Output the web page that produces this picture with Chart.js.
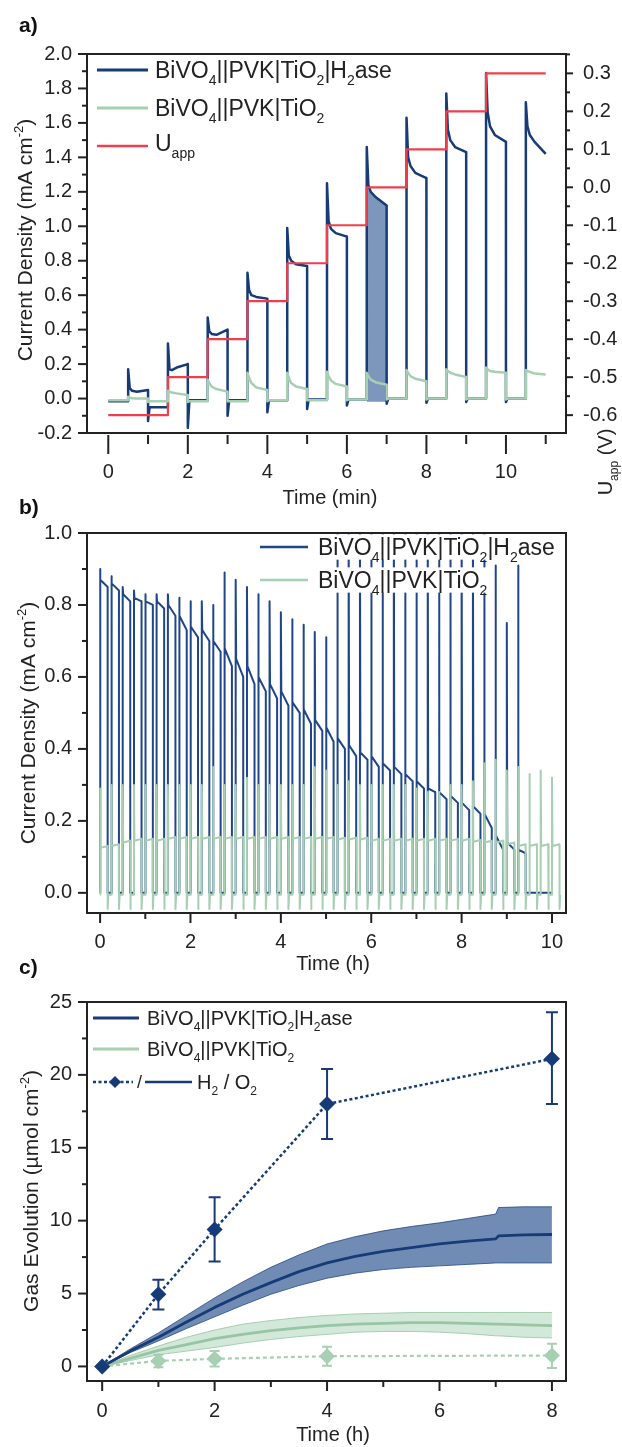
<!DOCTYPE html>
<html>
<head>
<meta charset="utf-8">
<script src="https://cdn.jsdelivr.net/npm/chart.js@4.4.0/dist/chart.umd.min.js"></script>
<style>
  html, body { margin: 0; padding: 0; background: #fff; width: 622px; height: 1447px; overflow: hidden; }
  .panel { position: absolute; left: 0; width: 622px; }
  .tag { position: absolute; left: 19px; font: bold 21px "Liberation Sans", Arial, sans-serif; color: #111; z-index: 5; }
</style>
</head>
<body>
<div class="panel" style="top:0;height:515px"><canvas id="chartA" width="622" height="515"></canvas></div>
<div class="panel" style="top:500px;height:475px"><canvas id="chartB" width="622" height="475"></canvas></div>
<div class="panel" style="top:975px;height:472px"><canvas id="chartC" width="622" height="472"></canvas></div>
<div class="tag" style="top:13px">a)</div>
<div class="tag" style="top:495px">b)</div>
<div class="tag" style="top:955px">c)</div>
<script>
const FONT = '"Liberation Sans", Arial, sans-serif';
const BLUE = '#173b76';
const GREEN = '#a7cfb2';
const RED = '#ee3f4c';
const INK = '#222';

// ---- panel a: stepped potential, chopped light (time in min) ----
const aOn  = [0.5, 1.5, 2.5, 3.5, 4.5, 5.5, 6.5, 7.5, 8.5, 9.5, 10.5];
const aOff = [1, 2, 3, 4, 5, 6, 7, 8, 9, 10, 11];
const aBluePeak = [0.17, 0.32, 0.47, 0.73, 0.99, 1.25, 1.46, 1.63, 1.77, 1.89, 1.72];
const aBlueKnee = [0.06, 0.17, 0.39, 0.63, 0.83, 1.03, 1.24, 1.40, 1.56, 1.66, 1.58];
const aBlueSag  = [0.045, 0.165, 0.375, 0.60, 0.80, 0.985, 1.20, 1.35, 1.50, 1.58, 1.53];
const aBlueMid  = [0.04, 0.18, 0.37, 0.59, 0.78, 0.96, 1.17, 1.31, 1.46, 1.53, 1.49];
const aBlueEnd  = [0.05, 0.20, 0.40, 0.58, 0.77, 0.94, 1.12, 1.28, 1.43, 1.49, 1.42];
const aBlueDip  = [-0.13, -0.17, -0.10, -0.08, -0.06, -0.04, -0.03, -0.025, -0.02, -0.02];
const aBlueDark = [-0.015, -0.05, -0.01, -0.01, -0.01, -0.005, -0.005, 0, 0, 0, 0];
const aGreenPeak = [0.01, 0.045, 0.11, 0.15, 0.15, 0.155, 0.15, 0.165, 0.17, 0.18, 0.165];
const aGreenKnee = [0.005, 0.04, 0.09, 0.12, 0.12, 0.13, 0.13, 0.15, 0.16, 0.17, 0.16];
const aGreenSag  = [0.002, 0.035, 0.07, 0.09, 0.09, 0.105, 0.11, 0.13, 0.15, 0.16, 0.155];
const aGreenMid  = [0.0, 0.03, 0.055, 0.065, 0.07, 0.085, 0.095, 0.115, 0.14, 0.155, 0.145];
const aGreenEnd  = [0.0, 0.02, 0.04, 0.05, 0.055, 0.07, 0.08, 0.10, 0.125, 0.15, 0.14];
const aGreenDip  = [-0.02, -0.02, -0.015, -0.015, -0.01, -0.01, -0.005, -0.005, -0.005, -0.005];
const aGreenDark = [-0.01, -0.015, -0.015, -0.015, -0.01, -0.01, -0.005, 0, 0, 0, 0];
const aUTimes = [0, 1.5, 2.5, 3.5, 4.5, 5.5, 6.5, 7.5, 8.5, 9.5, 11];
const aUValues = [-0.6, -0.5, -0.4, -0.3, -0.2, -0.1, 0.0, 0.1, 0.2, 0.3, 0.3];
const aShadeFrom = 6.5, aShadeTo = 7.0;

// ---- panel b: long-term chopped light (time in h) ----
const bOn = [0, 0.25, 0.5, 0.75, 1, 1.25, 1.5, 1.75, 2, 2.25, 2.5, 2.75, 3, 3.25, 3.5, 3.75, 4, 4.25, 4.5, 4.75,
             5, 5.25, 5.5, 5.75, 6, 6.25, 6.5, 6.75, 7, 7.25, 7.5, 7.75, 8, 8.25, 8.5, 8.75, 9, 9.25, 9.5, 9.75, 10];
const bLightDur = 0.167;
const bBluePeak = [0.90, 0.88, 0.85, 0.84, 0.83, 0.83, 0.83, 0.82, 0.81, 0.81, 0.80, 0.89, 0.87, 0.85, 0.83, 0.81,
                   0.78, 0.76, 0.745, 0.725, 0.71, 1.05, 1.05, 1.05, 1.05, 1.05, 1.05, 1.05, 1.05, 1.05, 1.05, 1.05,
                   1.05, 1.05, 1.05, 0.91, 0.75, 0.91];
const bBlueStart = [0.87, 0.86, 0.83, 0.82, 0.81, 0.81, 0.80, 0.77, 0.74, 0.73, 0.70, 0.68, 0.65, 0.63, 0.60, 0.58,
                    0.56, 0.53, 0.51, 0.48, 0.46, 0.43, 0.41, 0.39, 0.38, 0.36, 0.35, 0.33, 0.31, 0.29, 0.28, 0.27,
                    0.25, 0.24, 0.22, 0.16, 0.14, 0.12];
const bBlueEnd = [0.85, 0.84, 0.81, 0.81, 0.80, 0.79, 0.77, 0.73, 0.71, 0.70, 0.67, 0.63, 0.60, 0.58, 0.56, 0.54,
                  0.52, 0.50, 0.47, 0.45, 0.42, 0.40, 0.38, 0.37, 0.35, 0.34, 0.33, 0.31, 0.29, 0.28, 0.26, 0.25,
                  0.23, 0.22, 0.18, 0.12, 0.12, 0.11];
const bBlueTailT = [9.45, 10.0];
const bBlueTailY = [0.0, 0.0];
const bGreenPeak = [0.29, 0.30, 0.30, 0.30, 0.30, 0.30, 0.30, 0.30, 0.30, 0.30, 0.35, 0.30, 0.30, 0.32, 0.30, 0.30,
                    0.30, 0.30, 0.30, 0.35, 0.34, 0.30, 0.31, 0.30, 0.30, 0.30, 0.30, 0.30, 0.29, 0.28, 0.28, 0.30,
                    0.30, 0.31, 0.36, 0.37, 0.34, 0.35, 0.33, 0.34, 0.32];
const bGreenLevel = [0.125, 0.13, 0.14, 0.145, 0.145, 0.145, 0.15, 0.15, 0.15, 0.15, 0.15, 0.15, 0.15, 0.15, 0.15,
                     0.15, 0.15, 0.15, 0.15, 0.15, 0.15, 0.148, 0.148, 0.148, 0.145, 0.145, 0.145, 0.145, 0.145,
                     0.145, 0.145, 0.145, 0.145, 0.142, 0.14, 0.14, 0.135, 0.13, 0.13, 0.13, 0.13];
const bGreenDip = -0.045;
const bGreenDark = -0.005;

// ---- panel c: gas evolution (time in h) ----
const cTimesH2 = [0, 1, 2, 4, 8];
const cH2Blue = [0, 4.95, 9.4, 18.0, 21.1];
const cH2BlueLow = [0, 3.9, 7.2, 15.6, 18.0];
const cH2BlueHigh = [0, 5.95, 11.6, 20.4, 24.3];
const cH2Green = [0, 0.38, 0.52, 0.7, 0.75];
const cH2GreenLow = [0, -0.05, 0.0, 0.05, -0.1];
const cH2GreenHigh = [0, 0.8, 1.05, 1.35, 1.55];
const cTimesO2 = [0, 0.5, 1, 1.5, 2, 2.5, 3, 3.5, 4, 4.5, 5, 5.5, 6, 6.5, 7, 7.05, 7.5, 8];
const cO2Blue = [0, 1.05, 2.0, 3.05, 4.05, 4.95, 5.75, 6.5, 7.1, 7.55, 7.9, 8.15, 8.4, 8.6, 8.75, 8.95, 9.02, 9.05];
const cO2BlueHigh = [0, 1.2, 2.3, 3.5, 4.7, 5.8, 6.8, 7.65, 8.4, 8.9, 9.3, 9.6, 9.85, 10.15, 10.45, 10.9, 10.95, 10.95];
const cO2BlueLow = [0, 0.95, 1.75, 2.6, 3.4, 4.2, 4.95, 5.55, 6.05, 6.4, 6.65, 6.8, 6.9, 7.0, 7.1, 7.1, 7.1, 7.1];
const cO2Green = [0, 0.55, 1.1, 1.5, 1.9, 2.2, 2.45, 2.65, 2.8, 2.9, 2.95, 3.0, 3.0, 2.95, 2.9, 2.9, 2.85, 2.8];
const cO2GreenHigh = [0, 0.75, 1.4, 2.0, 2.5, 2.9, 3.15, 3.35, 3.5, 3.6, 3.65, 3.7, 3.7, 3.7, 3.7, 3.7, 3.7, 3.7];
const cO2GreenLow = [0, 0.4, 0.8, 1.05, 1.3, 1.6, 1.85, 2.05, 2.2, 2.35, 2.4, 2.4, 2.35, 2.25, 2.1, 2.1, 2.0, 1.95];

// labels
const BIVO_H2ASE = [['BiVO', ''], ['4', 'sub'], ['||PVK|TiO', ''], ['2', 'sub'], ['|H', ''], ['2', 'sub'], ['ase', '']];
const BIVO = [['BiVO', ''], ['4', 'sub'], ['||PVK|TiO', ''], ['2', 'sub']];
const UAPP = [['U', ''], ['app', 'sub']];
const H2O2 = [['H', ''], ['2', 'sub'], [' / O', ''], ['2', 'sub']];
const CURRENT_TITLE = [['Current Density (mA cm', ''], ['-2', 'sup'], [')', '']];
const GAS_TITLE = [['Gas Evolution (\u00b5mol cm', ''], ['-2', 'sup'], [')', '']];
const UAPP_TITLE = [['U', ''], ['app', 'sub'], [' (V)', '']];

// Build the chopped-light trace of panel a from the per-cycle values
function buildChop(on, off, peak, knee, sag, mid, end, dip, dark) {
  const pts = [{ x: 0, y: dark[0] }];
  for (let i = 0; i < on.length; i++) {
    pts.push({ x: on[i], y: dark[i] });
    pts.push({ x: on[i], y: peak[i] });
    pts.push({ x: on[i] + 0.04, y: knee[i] });
    pts.push({ x: on[i] + 0.1, y: sag[i] });
    pts.push({ x: on[i] + 0.22, y: mid[i] });
    pts.push({ x: off[i], y: end[i] });
    if (i < dip.length) {
      pts.push({ x: off[i], y: dip[i] });
      pts.push({ x: off[i] + 0.04, y: dark[i + 1] });
    }
  }
  return pts;
}

const aBluePts = buildChop(aOn, aOff, aBluePeak, aBlueKnee, aBlueSag, aBlueMid, aBlueEnd, aBlueDip, aBlueDark);
const aGreenPts = buildChop(aOn, aOff, aGreenPeak, aGreenKnee, aGreenSag, aGreenMid, aGreenEnd, aGreenDip, aGreenDark);
const aShadePts = aBluePts.filter(p => p.x >= aShadeFrom && p.x <= aShadeTo);
const aUPts = aUTimes.map((t, i) => ({ x: t, y: aUValues[i] }));

const bBluePts = [{ x: 0, y: 0 }];
bBluePeak.forEach((pk, i) => {
  const t = bOn[i];
  bBluePts.push({ x: t, y: 0 }, { x: t, y: pk }, { x: t + 0.01, y: bBlueStart[i] },
                { x: t + bLightDur, y: bBlueEnd[i] }, { x: t + bLightDur, y: 0 });
});
bBlueTailT.forEach((t, i) => bBluePts.push({ x: t, y: bBlueTailY[i] }));

const bGreenPts = [{ x: 0, y: bGreenDark }];
bGreenPeak.forEach((pk, i) => {
  const t = bOn[i];
  bGreenPts.push({ x: t, y: bGreenDark }, { x: t, y: pk }, { x: t + 0.01, y: bGreenLevel[i] },
                 { x: t + bLightDur, y: bGreenLevel[i] + 0.005 }, { x: t + bLightDur, y: bGreenDip },
                 { x: t + bLightDur + 0.015, y: bGreenDark });
});

const xy = (xs, ys) => xs.map((x, i) => ({ x, y: ys[i] }));

// Rich text with sub/superscripts; y is the visual middle of the line
function drawRich(ctx, parts, x, y, size, opt = {}) {
  const small = Math.round(size * 0.62);
  let w = 0;
  parts.forEach(([t, m]) => { ctx.font = (m ? small : size) + 'px ' + FONT; w += ctx.measureText(t).width; });
  ctx.save();
  ctx.translate(x, y);
  if (opt.rotate) ctx.rotate(opt.rotate);
  let cx = opt.align === 'center' ? -w / 2 : 0;
  ctx.textBaseline = 'alphabetic';
  ctx.fillStyle = opt.color || INK;
  parts.forEach(([t, m]) => {
    ctx.font = (m ? small : size) + 'px ' + FONT;
    let dy = size * 0.36;
    if (m === 'sub') dy += size * 0.3;
    if (m === 'sup') dy -= size * 0.42;
    ctx.fillText(t, cx, dy);
    cx += ctx.measureText(t).width;
  });
  ctx.restore();
  return w;
}

function drawTicks(chart, t) {
  const ctx = chart.ctx, a = chart.chartArea, s = chart.scales[t.axis];
  const n = Math.round((t.to - t.from) / t.step);
  const gap = t.gap || 0;
  for (let i = 0; i <= n; i++) {
    const v = t.from + i * t.step;
    if (v < s.min - 1e-9 || v > s.max + 1e-9) continue;
    const p = s.getPixelForValue(v);
    ctx.beginPath();
    if (t.side === 'bottom') { ctx.moveTo(p, a.bottom + gap); ctx.lineTo(p, a.bottom + gap + t.len); }
    if (t.side === 'left') { ctx.moveTo(a.left, p); ctx.lineTo(a.left - t.len, p); }
    if (t.side === 'right') { ctx.moveTo(a.right, p); ctx.lineTo(a.right + t.len, p); }
    ctx.stroke();
  }
}

function drawDiamond(ctx, x, y, r, color) {
  ctx.beginPath();
  ctx.moveTo(x, y - r); ctx.lineTo(x + r, y); ctx.lineTo(x, y + r); ctx.lineTo(x - r, y);
  ctx.closePath();
  ctx.fillStyle = color;
  ctx.fill();
}

const decoPlugin = {
  id: 'deco',
  beforeDatasetsDraw(chart, args, opts) {
    const ctx = chart.ctx;
    (opts.errorBars || []).forEach(eb => {
      const sx = chart.scales.x, sy = chart.scales.y;
      ctx.save();
      ctx.strokeStyle = eb.color;
      ctx.lineWidth = eb.width;
      eb.x.forEach((t, i) => {
        if (eb.high[i] === eb.low[i]) return;
        const px = sx.getPixelForValue(t);
        const y1 = sy.getPixelForValue(eb.high[i]), y2 = sy.getPixelForValue(eb.low[i]);
        ctx.beginPath();
        ctx.moveTo(px, y1); ctx.lineTo(px, y2);
        ctx.moveTo(px - eb.cap / 2, y1); ctx.lineTo(px + eb.cap / 2, y1);
        ctx.moveTo(px - eb.cap / 2, y2); ctx.lineTo(px + eb.cap / 2, y2);
        ctx.stroke();
      });
      ctx.restore();
    });
  },
  afterDraw(chart, args, opts) {
    const ctx = chart.ctx, a = chart.chartArea;
    ctx.save();
    ctx.strokeStyle = INK;
    ctx.lineWidth = 2;
    ctx.strokeRect(a.left, a.top, a.right - a.left, a.bottom - a.top);
    (opts.ticks || []).forEach(t => drawTicks(chart, t));
    (opts.titles || []).forEach(t => drawRich(ctx, t.parts, t.x, t.y, t.size, { rotate: t.rotate, align: 'center' }));
    (opts.legend || []).forEach(it => {
      if (it.kind === 'line') {
        ctx.save();
        ctx.strokeStyle = it.color;
        ctx.lineWidth = it.width;
        ctx.setLineDash(it.dash || []);
        ctx.beginPath(); ctx.moveTo(it.x1, it.y); ctx.lineTo(it.x2, it.y); ctx.stroke();
        ctx.restore();
      } else if (it.kind === 'diamond') {
        drawDiamond(ctx, it.x, it.y, it.r, it.color);
      } else if (it.kind === 'text') {
        if (it.clear) {
          ctx.fillStyle = '#fff';
          ctx.fillRect(it.x - 2, it.y - it.size * 0.55, it.clear, it.size * 1.1);
        }
        drawRich(ctx, it.parts, it.x, it.y, it.size);
      }
    });
    ctx.restore();
  }
};
Chart.register(decoPlugin);
Chart.defaults.font.family = FONT;
Chart.defaults.color = INK;

const baseOpts = (extra) => Object.assign({
  animation: false,
  responsive: false,
  devicePixelRatio: 1,
  events: [],
  elements: { point: { radius: 0 }, line: { tension: 0, borderJoinStyle: 'round', fill: false } },
}, extra);

const axisCommon = { grid: { display: false, drawTicks: false }, border: { display: false } };

// ---------------- panel a ----------------
new Chart(document.getElementById('chartA'), {
  type: 'line',
  data: {
    datasets: [
      { data: aGreenPts, borderColor: GREEN, borderWidth: 2.5, yAxisID: 'y' },
      { data: aUPts, borderColor: RED, borderWidth: 2.2, stepped: 'before', yAxisID: 'y2' },
      { data: aBluePts, borderColor: BLUE, borderWidth: 2.5, yAxisID: 'y' },
      { data: aShadePts, borderWidth: 0, borderColor: 'rgba(0,0,0,0)', backgroundColor: 'rgba(45,85,145,0.62)',
        fill: { value: -0.018 }, yAxisID: 'y' }
    ]
  },
  options: baseOpts({
    layout: { padding: { top: 54, left: 0, right: 0, bottom: 0 } },
    plugins: {
      legend: { display: false }, tooltip: { enabled: false },
      deco: {
        ticks: [
          { axis: 'x', side: 'bottom', from: 0, to: 10, step: 2, len: 19, gap: 2 },
          { axis: 'x', side: 'bottom', from: 1, to: 11, step: 2, len: 9, gap: 2 },
          { axis: 'y', side: 'left', from: -0.2, to: 2.0, step: 0.2, len: 9 },
          { axis: 'y', side: 'left', from: -0.1, to: 1.9, step: 0.2, len: 5 },
          { axis: 'y2', side: 'right', from: -0.6, to: 0.3, step: 0.1, len: 7 },
          { axis: 'y2', side: 'right', from: -0.55, to: 0.35, step: 0.1, len: 4 }
        ],
        titles: [
          { parts: CURRENT_TITLE, x: 24, y: 240, size: 21, rotate: -Math.PI / 2 },
          { parts: [['Time (min)', '']], x: 330, y: 497, size: 20 },
          { parts: UAPP_TITLE, x: 605, y: 462, size: 20, rotate: -Math.PI / 2 }
        ],
        legend: [
          { kind: 'line', x1: 97, x2: 148, y: 70, color: BLUE, width: 3 },
          { kind: 'text', x: 155, y: 70, parts: BIVO_H2ASE, size: 23 },
          { kind: 'line', x1: 97, x2: 148, y: 108, color: GREEN, width: 3 },
          { kind: 'text', x: 155, y: 108, parts: BIVO, size: 23 },
          { kind: 'line', x1: 97, x2: 148, y: 146, color: RED, width: 2.5 },
          { kind: 'text', x: 155, y: 143, parts: UAPP, size: 23 }
        ]
      }
    },
    scales: {
      x: Object.assign({}, axisCommon, {
        type: 'linear', min: -0.535, max: 11.51,
        ticks: { stepSize: 2, includeBounds: false, padding: 27, font: { size: 20 }, color: INK,
                 callback: v => String(v) },
        afterFit: s => { s.height = 82; }
      }),
      y: Object.assign({}, axisCommon, {
        type: 'linear', position: 'left', min: -0.2, max: 2.0,
        ticks: { stepSize: 0.2, padding: 15, font: { size: 20 }, color: INK, callback: v => v.toFixed(1) },
        afterFit: s => { s.width = 87; }
      }),
      y2: Object.assign({}, axisCommon, {
        type: 'linear', position: 'right', min: -0.647, max: 0.351,
        ticks: { stepSize: 0.1, includeBounds: false, padding: 17, font: { size: 20 }, color: INK,
                 callback: v => v.toFixed(1) },
        afterFit: s => { s.width = 56; }
      })
    }
  })
});

// ---------------- panel b ----------------
new Chart(document.getElementById('chartB'), {
  type: 'line',
  data: {
    datasets: [
      { data: bGreenPts, borderColor: GREEN, borderWidth: 2 },
      { data: bBluePts, borderColor: '#1f4688', borderWidth: 2 }
    ]
  },
  options: baseOpts({
    layout: { padding: { top: 33, left: 0, right: 56, bottom: 0 } },
    plugins: {
      legend: { display: false }, tooltip: { enabled: false },
      deco: {
        ticks: [
          { axis: 'x', side: 'bottom', from: 0, to: 10, step: 2, len: 9, gap: 1 },
          { axis: 'x', side: 'bottom', from: 1, to: 9, step: 2, len: 5, gap: 1 },
          { axis: 'y', side: 'left', from: 0, to: 1.0, step: 0.2, len: 9 },
          { axis: 'y', side: 'left', from: 0.1, to: 0.9, step: 0.2, len: 5 }
        ],
        titles: [
          { parts: CURRENT_TITLE, x: 27, y: 223, size: 21, rotate: -Math.PI / 2 },
          { parts: [['Time (h)', '']], x: 333, y: 463, size: 20 }
        ],
        legend: [
          { kind: 'line', x1: 260, x2: 308, y: 47, color: '#1f4688', width: 2.5 },
          { kind: 'text', x: 318, y: 47, parts: BIVO_H2ASE, size: 23, clear: 242 },
          { kind: 'line', x1: 260, x2: 308, y: 80, color: GREEN, width: 2.5 },
          { kind: 'text', x: 318, y: 80, parts: BIVO, size: 23, clear: 178 }
        ]
      }
    },
    scales: {
      x: Object.assign({}, axisCommon, {
        type: 'linear', min: -0.29, max: 10.31,
        ticks: { stepSize: 2, includeBounds: false, padding: 17, font: { size: 20 }, color: INK,
                 callback: v => String(v) },
        afterFit: s => { s.height = 62; }
      }),
      y: Object.assign({}, axisCommon, {
        type: 'linear', position: 'left', min: -0.056, max: 1.0,
        ticks: { stepSize: 0.2, includeBounds: false, padding: 15, font: { size: 20 }, color: INK,
                 callback: v => v.toFixed(1) },
        afterFit: s => { s.width = 87; }
      })
    }
  })
});

// ---------------- panel c ----------------
new Chart(document.getElementById('chartC'), {
  type: 'line',
  data: {
    datasets: [
      { data: xy(cTimesH2, cH2Blue), borderColor: BLUE, borderWidth: 2.5, borderDash: [3, 2.5],
        pointStyle: 'rectRot', pointRadius: 8, pointBackgroundColor: BLUE, pointBorderWidth: 0 },
      { data: xy(cTimesH2, cH2Green), borderColor: GREEN, borderWidth: 2.2, borderDash: [4, 3],
        pointStyle: 'rectRot', pointRadius: 8, pointBackgroundColor: GREEN, pointBorderWidth: 0 },
      { data: xy(cTimesO2, cO2Blue), borderColor: BLUE, borderWidth: 2.8 },
      { data: xy(cTimesO2, cO2BlueHigh), borderColor: 'rgba(35,70,125,0.8)', borderWidth: 1,
        backgroundColor: 'rgba(45,85,145,0.68)', fill: '+1' },
      { data: xy(cTimesO2, cO2BlueLow), borderColor: 'rgba(35,70,125,0.8)', borderWidth: 1 },
      { data: xy(cTimesO2, cO2Green), borderColor: '#98c5a5', borderWidth: 2.8 },
      { data: xy(cTimesO2, cO2GreenHigh), borderColor: 'rgba(150,195,162,0.8)', borderWidth: 1,
        backgroundColor: 'rgba(155,203,170,0.45)', fill: '+1' },
      { data: xy(cTimesO2, cO2GreenLow), borderColor: 'rgba(150,195,162,0.8)', borderWidth: 1 }
    ]
  },
  options: baseOpts({
    layout: { padding: { top: 25, left: 0, right: 56, bottom: 0 } },
    plugins: {
      legend: { display: false }, tooltip: { enabled: false },
      deco: {
        errorBars: [
          { x: cTimesH2, low: cH2BlueLow, high: cH2BlueHigh, color: BLUE, width: 2, cap: 12 },
          { x: cTimesH2, low: cH2GreenLow, high: cH2GreenHigh, color: GREEN, width: 2, cap: 10 }
        ],
        ticks: [
          { axis: 'x', side: 'bottom', from: 0, to: 8, step: 2, len: 9, gap: 1 },
          { axis: 'x', side: 'bottom', from: 1, to: 7, step: 2, len: 5, gap: 1 },
          { axis: 'y', side: 'left', from: 0, to: 25, step: 5, len: 9 },
          { axis: 'y', side: 'left', from: 2.5, to: 22.5, step: 5, len: 5 }
        ],
        titles: [
          { parts: GAS_TITLE, x: 30, y: 216, size: 21, rotate: -Math.PI / 2 },
          { parts: [['Time (h)', '']], x: 333, y: 459, size: 20 }
        ],
        legend: [
          { kind: 'line', x1: 93, x2: 139, y: 43, color: BLUE, width: 3 },
          { kind: 'text', x: 147, y: 43, parts: BIVO_H2ASE, size: 20 },
          { kind: 'line', x1: 93, x2: 139, y: 74, color: GREEN, width: 3 },
          { kind: 'text', x: 147, y: 74, parts: BIVO, size: 20 },
          { kind: 'line', x1: 93, x2: 133, y: 107, color: BLUE, width: 2.5, dash: [3, 2.5] },
          { kind: 'diamond', x: 115, y: 107, r: 6, color: BLUE },
          { kind: 'text', x: 137, y: 107, parts: [['/', '']], size: 18 },
          { kind: 'line', x1: 145, x2: 192, y: 107, color: BLUE, width: 2.5 },
          { kind: 'text', x: 197, y: 107, parts: H2O2, size: 20 }
        ]
      }
    },
    scales: {
      x: Object.assign({}, axisCommon, {
        type: 'linear', min: -0.27, max: 8.25,
        ticks: { stepSize: 2, includeBounds: false, padding: 18, font: { size: 20 }, color: INK,
                 callback: v => String(v) },
        afterFit: s => { s.height = 66; }
      }),
      y: Object.assign({}, axisCommon, {
        type: 'linear', position: 'left', min: -1.0, max: 25,
        ticks: { stepSize: 5, includeBounds: false, padding: 15, font: { size: 20 }, color: INK,
                 callback: v => String(v) },
        afterFit: s => { s.width = 87; }
      })
    }
  })
});
</script>
</body>
</html>
